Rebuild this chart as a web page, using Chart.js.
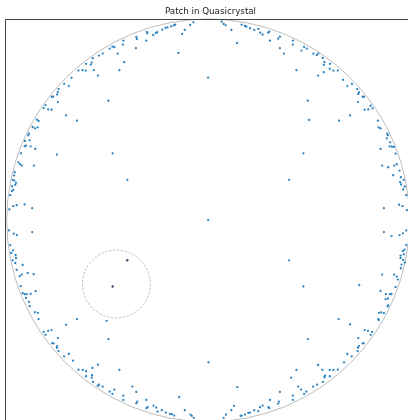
<!DOCTYPE html>
<html>
<head>
<meta charset="utf-8">
<script src="https://cdn.jsdelivr.net/npm/chart.js@4.4.1/dist/chart.umd.min.js"></script>
<style>
  html, body { margin: 0; padding: 0; background: #fff; overflow: hidden; }
  #wrap { position: absolute; left: 0; top: 0; }
</style>
</head>
<body>
<div id="wrap"><canvas id="chart" width="416" height="430"></canvas></div>
<script>
const chartTitle = 'Patch in Quasicrystal';

// quasicrystal sites (x, y)
const sites = [
  [-14.7,198.4],[-18.0,195.7],[-23.4,190.7],[-26.0,186.7],[-33.0,196.0],[-34.4,195.4],[-37.0,194.4],[-40.7,193.4],
  [-42.7,192.7],[-46.0,191.0],[-51.0,188.4],[-52.4,187.7],[-55.0,185.7],[-61.4,188.7],[-61.0,187.4],[-62.0,180.0],
  [-72.0,183.7],[-71.4,181.7],[-72.4,172.4],[-85.0,180.0],[-85.4,176.0],[-94.0,173.4],[-96.0,174.0],[-98.7,172.0],
  [-90.7,167.0],[-105.7,167.0],[-109.4,165.0],[-115.7,162.4],[-116.7,158.0],[-117.7,156.0],[-122.4,156.7],[-114.7,150.4],
  [-122.7,150.0],[-126.0,150.4],[-130.0,150.0],[-110.4,145.0],[-84.0,158.4],[-89.0,150.4],[-29.7,167.7],[0,143.0],
  [-137.0,142.7],[-139.7,134.4],[-144.4,136.7],[-150.0,131.4],[-150.7,128.4],[-151.4,126.0],[-155.4,123.7],[-156.7,123.7],
  [-150.7,118.4],[-163.0,115.4],[-165.0,112.4],[-160.4,111.0],[-157.0,110.7],[-100.0,119.7],[-142.4,105.0],[-131.4,99.7],
  [-171.7,100.7],[-170.0,99.4],
  [13.6,199.0],[15.6,196.7],[17.6,195.4],[23.3,190.7],[33.6,196.0],[37.0,194.7],[38.3,194.0],[42.0,192.4],
  [46.3,190.7],[50.3,191.7],[52.3,188.0],[54.6,186.0],[60.3,188.0],[61.3,189.0],[62.0,180.0],[70.3,182.0],
  [72.0,184.0],[72.0,172.4],[76.0,167.0],[85.0,180.0],[85.0,176.0],[93.6,170.0],[96.3,173.7],[99.0,172.0],
  [105.6,167.0],[109.0,165.4],[110.6,167.0],[115.0,162.7],[116.6,158.4],[116.0,155.7],[122.3,156.7],[122.0,151.7],
  [125.6,150.0],[130.0,150.0],[116.0,148.4],[110.3,145.0],[88.6,150.4],[29.0,177.7],[135.3,140.7],[139.6,134.4],
  [144.3,136.7],[149.6,131.4],[151.3,128.0],[150.6,126.4],[155.0,123.7],[156.3,123.7],[150.3,118.4],[163.0,114.7],
  [165.0,112.0],[160.6,111.0],[157.0,110.7],[100.0,119.7],[142.3,105.0],[131.3,99.7],[101.3,100.4],[170.3,99.7],
  [-176.0,93.4],[-173.7,92.0],[-171.0,93.0],[-179.7,86.7],[-180.4,85.0],[-183.7,79.4],[-179.0,80.0],[-184.0,74.0],
  [-182.7,74.7],[-178.0,74.0],[-173.4,71.4],[-187.7,67.0],[-151.7,65.7],[-190.4,58.0],[-188.7,56.0],[-186.7,54.7],
  [-174.7,54.7],[-194.0,48.0],[-194.7,44.7],[-196.0,40.4],[-194.4,39.7],[-192.7,37.4],[-193.4,35.4],[-196.7,34.0],
  [-195.4,30.4],[-196.7,29.0],[-198.4,25.0],[-199.4,10.7],[-195.4,14.0],[-192.0,15.0],[-184.0,15.7],[-176.4,12.0],
  [-199.7,-10.3],[-195.0,-13.6],[-191.7,-15.0],[-176.4,-12.0],[-198.4,-25.0],[-195.7,-30.3],[-193.0,-35.0],[-197.4,-33.0],
  [-192.7,-38.0],[-196.0,-40.3],[-193.4,-43.0],[-192.0,-50.0],[-186.0,-45.0],[-181.0,-53.0],[-187.0,-54.6],[-189.0,-56.3],
  [-175.0,-54.3],[-188.0,-66.3],[-186.0,-73.3],[-184.0,-74.3],[-182.0,-74.3],[-178.0,-74.0],[-182.7,-78.0],[-173.0,-71.3],
  [-179.7,-82.0],[-179.0,-86.3],[-173.7,-92.3],[-170.7,-93.0],[-170.0,-99.3],[-131.4,-99.3],
  [171.0,93.0],[173.0,92.0],[179.6,86.7],[180.3,85.0],[179.3,82.0],[182.6,78.0],[182.0,74.0],[184.3,73.7],
  [186.3,73.4],[173.0,71.4],[188.0,66.7],[174.6,54.7],[180.6,53.0],[186.6,54.7],[189.3,56.0],[192.0,49.7],
  [185.6,45.0],[193.3,43.0],[196.3,40.4],[192.6,38.0],[193.6,35.7],[197.3,33.7],[195.6,30.7],[198.6,25.0],
  [176.3,12.0],[191.6,15.4],[195.0,14.0],[199.3,10.0],[176.3,-12.0],[184.0,-16.0],[192.0,-15.0],[195.3,-13.3],
  [198.6,-10.3],[198.6,-25.0],[197.0,-29.6],[195.3,-31.0],[196.3,-34.3],[193.0,-35.6],[193.0,-38.0],[195.6,-40.0],
  [197.3,-42.6],[194.0,-44.6],[193.3,-48.3],[174.6,-54.6],[186.6,-54.6],[189.3,-56.6],[190.3,-59.6],[151.6,-65.3],
  [188.0,-67.0],[173.0,-71.0],[178.3,-74.3],[182.3,-74.3],[184.0,-74.3],[180.3,-78.6],[178.0,-79.3],[180.6,-85.6],
  [180.0,-86.6],[173.6,-92.6],[171.3,-93.0],[176.3,-93.3],[131.0,-99.3],[170.6,-99.3],
  [-101.7,-101.0],[-165.0,-112.0],[-163.0,-115.0],[-160.4,-111.0],[-157.0,-110.3],[-142.4,-105.0],[-150.7,-118.3],[-100.0,-119.3],
  [-156.4,-123.6],[-155.0,-123.6],[-151.4,-126.3],[-151.7,-128.0],[-150.0,-131.3],[-139.7,-134.3],[-144.4,-136.6],[-135.4,-141.0],
  [-130.0,-150.0],[-125.7,-150.3],[-122.4,-151.6],[-116.0,-148.3],[-110.4,-145.0],[-116.4,-155.6],[-116.7,-158.0],[-122.4,-156.6],
  [-115.4,-162.3],[-109.4,-165.0],[-110.7,-166.3],[-105.7,-167.0],[-94.0,-170.0],[-98.7,-172.0],[-96.0,-174.3],[-89.0,-150.3],
  [-76.0,-167.0],[-72.0,-172.3],[-85.0,-176.0],[-85.0,-180.3],[-71.0,-182.0],[-72.0,-183.6],[-62.0,-180.3],[-60.7,-187.6],
  [-61.7,-188.6],[-54.7,-186.0],[-52.0,-188.0],[-50.7,-192.0],[-46.4,-190.6],[-42.4,-193.0],[-38.4,-194.3],[-36.4,-194.6],
  [-34.0,-196.0],[-29.0,-177.6],[-23.4,-190.6],[-17.7,-195.0],[-16.4,-196.3],[-14.4,-198.3],[0.3,-142.6],
  [142.3,-104.6],[171.3,-100.3],[157.0,-110.3],[160.3,-111.0],[164.6,-112.0],[163.0,-115.0],[150.6,-118.3],[156.0,-123.6],
  [155.0,-123.6],[151.3,-126.3],[150.3,-128.0],[150.0,-131.3],[139.6,-134.3],[144.0,-136.6],[136.3,-142.6],[100.0,-119.3],
  [130.0,-150.0],[125.6,-150.3],[122.0,-150.3],[114.6,-150.3],[110.3,-145.3],[117.3,-156.0],[116.6,-157.6],[122.0,-156.6],
  [115.3,-162.3],[109.3,-165.0],[105.3,-167.0],[90.3,-167.0],[93.3,-170.0],[98.6,-172.0],[96.3,-174.3],[88.6,-150.3],
  [83.3,-158.0],[72.0,-172.3],[85.0,-176.0],[85.0,-180.3],[62.0,-180.3],[71.0,-182.0],[70.3,-184.0],[60.6,-187.6],
  [61.3,-188.6],[54.6,-186.0],[52.0,-187.6],[50.3,-191.6],[46.3,-190.6],[42.0,-193.0],[40.3,-193.3],[37.0,-195.0],
  [33.6,-196.0],[32.6,-196.3],[29.3,-167.6],[26.0,-186.3],[23.3,-190.6],[18.0,-195.0],[15.6,-198.3],
  [-95.7,67.0],[95.6,67.0],[-81.0,40.4],[81.3,40.4],[0,0],[81.3,-40.3],[95.6,-66.6]
];

// sites inside the small patch (drawn darker)
const patchSites = [[-81.0,-40.3],[-95.7,-66.6]];

// outline circles: [cx, cy, r]
const outerCircle = [0, -0.3, 202];
const patchCircle = [-92.0, -64.1, 34];

const xRange = [-203.7, 207.3];
const yRange = [-209.3, 201.76];

const toPoints = (list) => list.map(p => ({x: p[0], y: p[1]}));

const circlesPlugin = {
    id: 'circles',
    beforeDatasetsDraw(chart) {
        const ctx = chart.ctx;
        const xs = chart.scales.x, ys = chart.scales.y;
        const ring = (c, dash) => {
            const cx = xs.getPixelForValue(c[0]);
            const cy = ys.getPixelForValue(c[1]);
            const r = xs.getPixelForValue(c[0] + c[2]) - cx;
            ctx.save();
            ctx.strokeStyle = '#bcbcbc';
            ctx.lineWidth = 1;
            ctx.setLineDash(dash);
            ctx.beginPath();
            ctx.arc(cx, cy, r, 0, Math.PI * 2);
            ctx.stroke();
            ctx.restore();
        };
        ring(outerCircle, []);
        ring(patchCircle, [2.5, 1.5]);
    },
    afterDraw(chart) {
        // only the left and top spines fall inside the window
        const {left, top, right, bottom} = chart.chartArea;
        const ctx = chart.ctx;
        const x0 = Math.round(left) + 0.5, y0 = Math.round(top) + 0.5;
        ctx.save();
        ctx.strokeStyle = '#444';
        ctx.lineWidth = 1;
        ctx.beginPath();
        ctx.moveTo(x0, bottom);
        ctx.lineTo(x0, y0);
        ctx.lineTo(right, y0);
        ctx.stroke();
        ctx.restore();
    }
};

new Chart(document.getElementById('chart').getContext('2d'), {
    type: 'scatter',
    data: {
        datasets: [{
            label: 'sites',
            data: toPoints(sites),
            backgroundColor: '#2a82c0',
            borderWidth: 0,
            pointRadius: 1.15,
            pointHoverRadius: 1.15
        }, {
            label: 'patch',
            data: toPoints(patchSites),
            backgroundColor: '#45456a',
            borderWidth: 0,
            pointRadius: 1.2,
            pointHoverRadius: 1.2
        }]
    },
    options: {
        responsive: false,
        animation: false,
        devicePixelRatio: 1,
        layout: {padding: {left: 5, top: 0, right: 0, bottom: 0}},
        scales: {
            x: {type: 'linear', min: xRange[0], max: xRange[1], display: false},
            y: {type: 'linear', min: yRange[0], max: yRange[1], display: false}
        },
        plugins: {
            legend: {display: false},
            tooltip: {enabled: false},
            title: {
                display: true,
                text: chartTitle,
                color: '#222',
                font: {family: 'DejaVu Sans', size: 8.7, weight: 'normal', lineHeight: 1.2},
                padding: {top: 7, bottom: 1.5}
            }
        }
    },
    plugins: [circlesPlugin]
});
</script>
</body>
</html>
